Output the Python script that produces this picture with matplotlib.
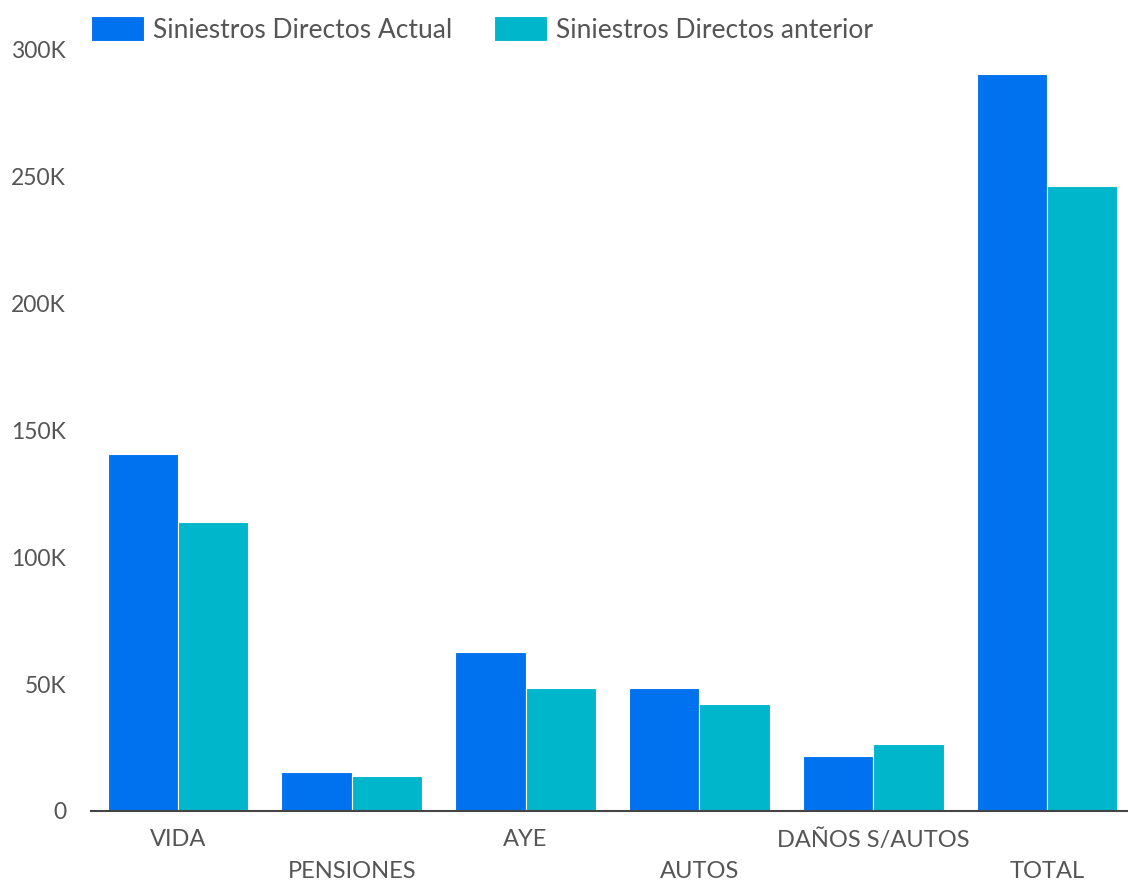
import matplotlib.pyplot as plt
import numpy as np
from matplotlib.ticker import FuncFormatter

plt.rcParams["font.family"] = ["Lato", "DejaVu Sans"]

categorias = ["VIDA", "PENSIONES", "AYE", "AUTOS", "DAÑOS S/AUTOS", "TOTAL"]
actual = [140.7, 15.4, 62.7, 48.5, 21.7, 290.5]      # miles
anterior = [113.9, 13.8, 48.5, 42.2, 26.4, 246.4]
series = ["Siniestros Directos Actual", "Siniestros Directos anterior"]

azul = "#0072F0"
turquesa = "#00B6CB"
gris = "#555555"

fig = plt.figure(figsize=(11.28, 8.91), dpi=100)
ax = fig.add_axes([91 / 1128, 0.0898, (1134 - 91) / 1128, 0.8541])

x = np.arange(len(categorias))
w = 0.405
ax.bar(x - w / 2, np.array(actual) * 1000, w, color=azul, edgecolor="white", linewidth=0.8, label=series[0])
ax.bar(x + w / 2, np.array(anterior) * 1000, w, color=turquesa, edgecolor="white", linewidth=0.8, label=series[1])

ax.set_xlim(-0.5, len(categorias) - 0.5)
ax.set_ylim(0, 300000)
ax.set_yticks(np.arange(0, 300001, 50000))
ax.yaxis.set_major_formatter(FuncFormatter(lambda v, p: "0" if v == 0 else f"{int(v/1000)}K"))

ax.set_xticks(x)
ax.set_xticklabels(categorias)
for i, t in enumerate(ax.xaxis.get_major_ticks()):
    t.set_pad(13 if i % 2 == 0 else 36)

ax.tick_params(axis="both", length=0, labelcolor=gris)
ax.tick_params(axis="x", labelsize=17)
ax.tick_params(axis="y", labelsize=16.5, pad=18)

for s in ["top", "right", "left"]:
    ax.spines[s].set_visible(False)
ax.spines["bottom"].set_color("#444444")
ax.spines["bottom"].set_linewidth(1.5)

fig.legend(loc="upper left", bbox_to_anchor=(91 / 1128, 1 - 16 / 891), ncol=2, frameon=False,
           fontsize=19, handlelength=2.0, handleheight=1.1, handletextpad=0.34,
           columnspacing=1.6, borderpad=0, borderaxespad=0, labelcolor=gris)

fig.savefig("out.png", dpi=100)
